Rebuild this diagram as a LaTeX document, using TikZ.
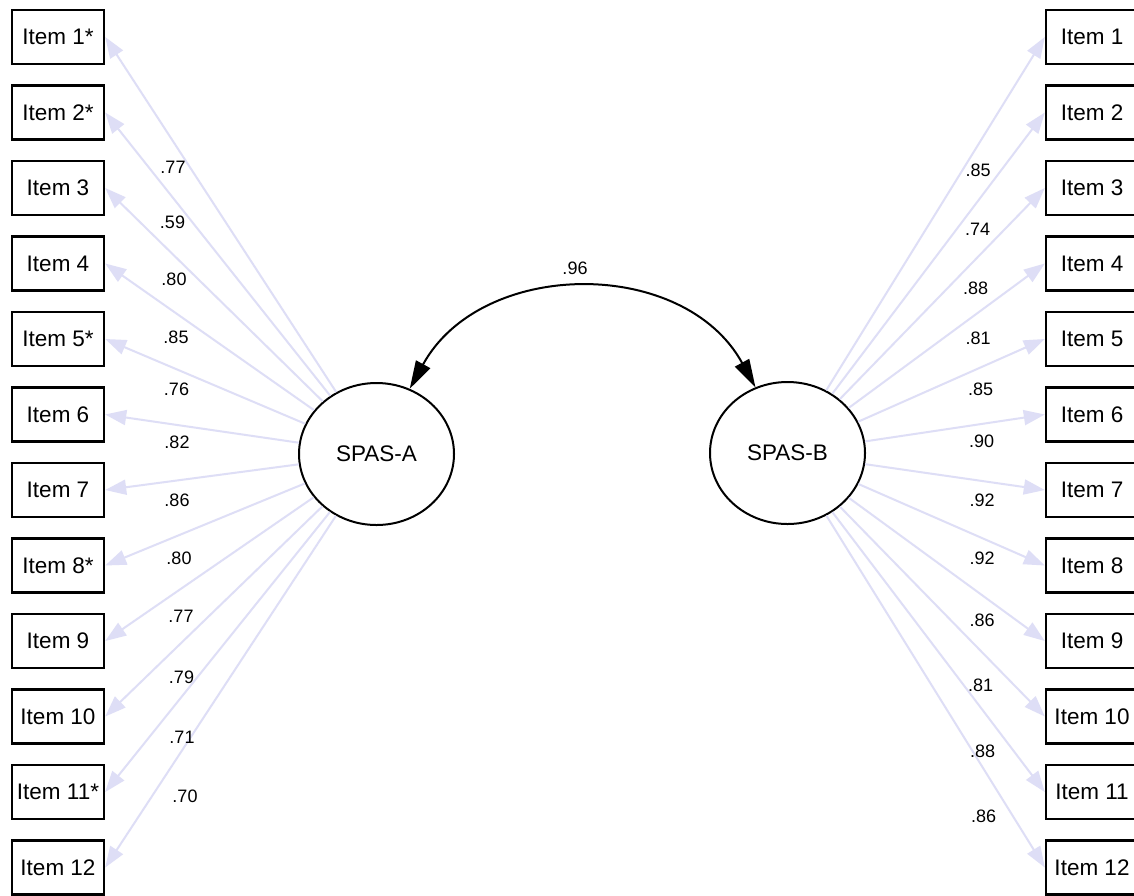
\documentclass[tikz,border=0pt]{standalone}
\usepackage{fontspec}
\setmainfont{Liberation Sans}
\usetikzlibrary{arrows.meta,shapes.geometric}
\definecolor{loadcol}{RGB}{222,222,246}
\tikzset{
  itembox/.style={draw=black, line width=2.4pt, fill=white, minimum width=92pt, minimum height=54pt, inner sep=0pt,
    font=\fontsize{22.5}{26}\selectfont},
  latent/.style={ellipse, draw=black, line width=2pt, fill=white, minimum width=155pt, minimum height=142pt, inner sep=0pt,
    font=\fontsize{22.5}{26}\selectfont},
  loading/.style={draw=loadcol, line width=2pt, -{Triangle[length=21pt,width=15pt]}, fill=loadcol},
  lbl/.style={inner sep=0pt, font=\fontsize{18}{20}\selectfont},
  corr/.style={draw=black, line width=2pt, {Triangle[length=28pt,width=16pt]}-{Triangle[length=28pt,width=16pt]}}
}
\begin{document}
\begin{tikzpicture}[x=1pt,y=-1pt]
\useasboundingbox (0,0) rectangle (1134,895);
\fill[white] (0,0) rectangle (1134,895);
% latent variables
\node[latent] (A) at (376.5,454) {SPAS-A};
\node[latent] (B) at (787.5,453) {SPAS-B};
% left items
\node[itembox] (L1) at (58,37) {Item 1*};
\node[itembox] (L2) at (58,112.5) {Item 2*};
\node[itembox] (L3) at (58,188) {Item 3};
\node[itembox] (L4) at (58,263.5) {Item 4};
\node[itembox] (L5) at (58,339) {Item 5*};
\node[itembox] (L6) at (58,414.5) {Item 6};
\node[itembox] (L7) at (58,490) {Item 7};
\node[itembox] (L8) at (58,565.5) {Item 8*};
\node[itembox] (L9) at (58,641) {Item 9};
\node[itembox] (L10) at (58,716.5) {Item 10};
\node[itembox] (L11) at (58,792) {Item 11*};
\node[itembox] (L12) at (58,867.5) {Item 12};
% right items
\node[itembox] (R1) at (1092,37) {Item 1};
\node[itembox] (R2) at (1092,112.5) {Item 2};
\node[itembox] (R3) at (1092,188) {Item 3};
\node[itembox] (R4) at (1092,263.5) {Item 4};
\node[itembox] (R5) at (1092,339) {Item 5};
\node[itembox] (R6) at (1092,414.5) {Item 6};
\node[itembox] (R7) at (1092,490) {Item 7};
\node[itembox] (R8) at (1092,565.5) {Item 8};
\node[itembox] (R9) at (1092,641) {Item 9};
\node[itembox] (R10) at (1092,716.5) {Item 10};
\node[itembox] (R11) at (1092,792) {Item 11};
\node[itembox] (R12) at (1092,867.5) {Item 12};
% loadings
\foreach \i in {1,...,12} {
  \draw[loading] (A) -- (L\i.east);
  \draw[loading] (B) -- (R\i.west);
}
% correlation
\draw[corr] (A.63.4) to[out=61.3,in=118.7,looseness=1.1] (B.116.6);
\node[inner sep=0pt, font=\fontsize{18}{20}\selectfont] (rAB) at (575,268) {.96};
% left loading labels
\node[lbl] (la1) at (173,167) {.77};
\node[lbl] (la2) at (172.5,222) {.59};
\node[lbl] (la3) at (174,279) {.80};
\node[lbl] (la4) at (176,337) {.85};
\node[lbl] (la5) at (176.5,389) {.76};
\node[lbl] (la6) at (177,442) {.82};
\node[lbl] (la7) at (177,500) {.86};
\node[lbl] (la8) at (179,558) {.80};
\node[lbl] (la9) at (181,616) {.77};
\node[lbl] (la10) at (181.5,677) {.79};
\node[lbl] (la11) at (182,737.5) {.71};
\node[lbl] (la12) at (185,796) {.70};
% right loading labels
\node[lbl] (lb1) at (978,170) {.85};
\node[lbl] (lb2) at (977.5,229) {.74};
\node[lbl] (lb3) at (975.5,288) {.88};
\node[lbl] (lb4) at (978,338) {.81};
\node[lbl] (lb5) at (980.5,389) {.85};
\node[lbl] (lb6) at (981.5,441.5) {.90};
\node[lbl] (lb7) at (982,500) {.92};
\node[lbl] (lb8) at (982,558) {.92};
\node[lbl] (lb9) at (982,620.5) {.86};
\node[lbl] (lb10) at (980.5,685.5) {.81};
\node[lbl] (lb11) at (982.5,751.5) {.88};
\node[lbl] (lb12) at (983.5,816.5) {.86};
\end{tikzpicture}
\end{document}
